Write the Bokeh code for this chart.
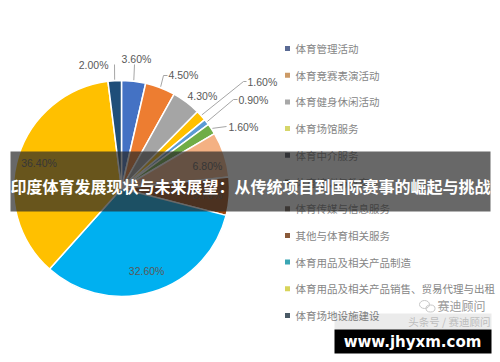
import math
from bokeh.plotting import figure
from bokeh.models import Range1d, ColumnDataSource
from bokeh.core.properties import value
from bokeh.embed import file_html
from bokeh.resources import INLINE

W, H = 500, 362

# ---- data ----
categories = ["体育管理活动", "体育竞赛表演活动", "体育健身休闲活动", "体育场馆服务",
              "体育中介服务", "体育培训与教育", "体育传媒与信息服务", "其他与体育相关服务",
              "体育用品及相关产品制造", "体育用品及相关产品销售、贸易代理与出租", "体育场地设施建设"]
shares = [3.6, 4.5, 4.3, 1.6, 0.9, 1.6, 6.8, 5.7, 32.6, 36.4, 2.0]
labels = ["3.60%", "4.50%", "4.30%", "1.60%", "0.90%", "1.60%", "6.80%", "5.70%",
          "32.60%", "36.40%", "2.00%"]
colors = ["#4472C4", "#ED7D31", "#A5A5A5", "#FFC000", "#5B9BD5", "#70AD47",
          "#F4B183", "#9E480E", "#00B0F0", "#FFC000", "#1F4E79"]
legend_colors = ["#5A6A94", "#CC9A66", "#A8A8A8", "#D6D66A", "#4A4F58", "#6A6A5A",
                 "#6A5A50", "#8A5A3A", "#3AA6B4", "#D8D45A", "#4A5A66"]
title = "印度体育发展现状与未来展望：从传统项目到国际赛事的崛起与挑战"

# ---- layout ----
CX, CY, R = 121, 188, 108          # pie centre / radius in pixels (y from top)

def Y(py):
    return H - py

p = figure(width=W, height=H, x_range=Range1d(0, W), y_range=Range1d(0, H),
           output_backend="svg", toolbar_location=None, min_border=0)
p.axis.visible = False
p.grid.visible = False
p.outline_line_color = None
p.background_fill_color = "white"
p.border_fill_color = "white"

total = sum(shares)
starts, ends, mids = [], [], []
acc = 0.0
for s in shares:
    a0 = math.pi / 2 - 2 * math.pi * acc / total
    acc += s
    a1 = math.pi / 2 - 2 * math.pi * acc / total
    starts.append(a0)
    ends.append(a1)
    mids.append((a0 + a1) / 2)

src = ColumnDataSource(dict(start=starts, end=ends, color=colors))
p.wedge(x=CX, y=Y(CY), radius=R, radius_units="screen", start_angle="start",
        end_angle="end", direction="clock", fill_color="color",
        line_color="white", line_width=1.5, source=src)

label_font = value("Liberation Sans")
lab_col = "#595959"

# inside labels (computed from slice mid angles)
inside = {7: 0.80, 8: 0.80, 9: 0.80}
for i, f in inside.items():
    x = CX + f * R * math.cos(mids[i])
    y = Y(CY) + f * R * math.sin(mids[i])
    p.text(x=[x], y=[y], text=[labels[i]], text_font=label_font,
           text_font_size="10.5px", text_color=lab_col,
           text_align="center", text_baseline="middle")

# outside / placed labels: label anchor (pixels) and leader elbow
outside = {
    0: dict(pos=(136, 58), elbow=None, end=(134, 64), align="center"),
    10: dict(pos=(108, 64), elbow=(114, 64), end=(114, 64), align="right"),
    1: dict(pos=(168, 74), elbow=(163, 75), end=(167, 75), align="left"),
    2: dict(pos=(187, 95), elbow=None, end=None, align="left"),
    3: dict(pos=(247, 81), elbow=(243, 81), end=(246, 81), align="left"),
    4: dict(pos=(238, 99), elbow=(233, 99), end=(237, 99), align="left"),
    5: dict(pos=(228, 126), elbow=None, end=(226, 126), align="left"),
    6: dict(pos=(207, 165), elbow=None, end=None, align="center"),
}
for i, d in outside.items():
    px, py = d["pos"]
    p.text(x=[px], y=[Y(py)], text=[labels[i]], text_font=label_font,
           text_font_size="10.5px", text_color=lab_col,
           text_align=d["align"], text_baseline="middle")
    if d["end"] is not None:
        ex = CX + (R + 1) * math.cos(mids[i])
        ey = Y(CY) + (R + 1) * math.sin(mids[i])
        xs, ys = [ex], [ey]
        if d["elbow"] is not None:
            xs.append(d["elbow"][0]); ys.append(Y(d["elbow"][1]))
        xs.append(d["end"][0]); ys.append(Y(d["end"][1]))
        p.line(x=xs, y=ys, line_color="#A6A6A6", line_width=1)

# legend
leg_x, leg_y0, leg_dy = 287, 48, 26.7
for k, (c, name) in enumerate(zip(legend_colors, categories)):
    yy = Y(leg_y0 + k * leg_dy)
    p.rect(x=[leg_x], y=[yy], width=5, height=5, fill_color=c, line_color=None)
    p.text(x=[leg_x + 8], y=[yy], text=[name], text_font=value("Noto Sans CJK SC"),
           text_font_size="10.5px", text_color="#858585",
           text_align="left", text_baseline="middle")

# watermark bits
p.ellipse(x=[424], y=[Y(304)], width=10, height=8, fill_color=None,
          line_color="#C8C8C8", line_width=1)
p.ellipse(x=[430], y=[Y(308)], width=9, height=7, fill_color=None,
          line_color="#C8C8C8", line_width=1)
p.text(x=[437], y=[Y(305)], text=["赛迪顾问"], text_font=value("Noto Sans CJK SC"),
       text_font_size="12px", text_color="#9A9A9A", text_align="left",
       text_baseline="middle")
p.quad(left=[334], right=[491], bottom=[Y(329)], top=[Y(313)],
       fill_color="#000000", fill_alpha=0.08, line_color=None)
p.text(x=[490], y=[Y(321)], text=["头条号 / 赛迪顾问"], text_font=value("Noto Sans CJK SC"),
       text_font_size="10.5px", text_color="#BDBDBD", text_align="right",
       text_baseline="middle")

# title banner
p.quad(left=[10], right=[490], bottom=[Y(211)], top=[Y(151)],
       fill_color="#282828", fill_alpha=0.7, line_color=None)
p.text(x=[250], y=[Y(185)], text=[title], text_font=value("Noto Sans CJK SC"),
       text_font_size="16px", text_font_style="bold", text_color="white",
       text_align="center", text_baseline="middle")

# url box
p.quad(left=[334], right=[491], bottom=[Y(353)], top=[Y(329)],
       fill_color="black", line_color=None)
p.text(x=[412], y=[Y(341)], text=["www.jhyxm.com"], text_font=value("DejaVu Sans"),
       text_font_size="15px", text_font_style="bold", text_color="white",
       text_align="center", text_baseline="middle")

open("out.html", "w").write(file_html(p, INLINE))
